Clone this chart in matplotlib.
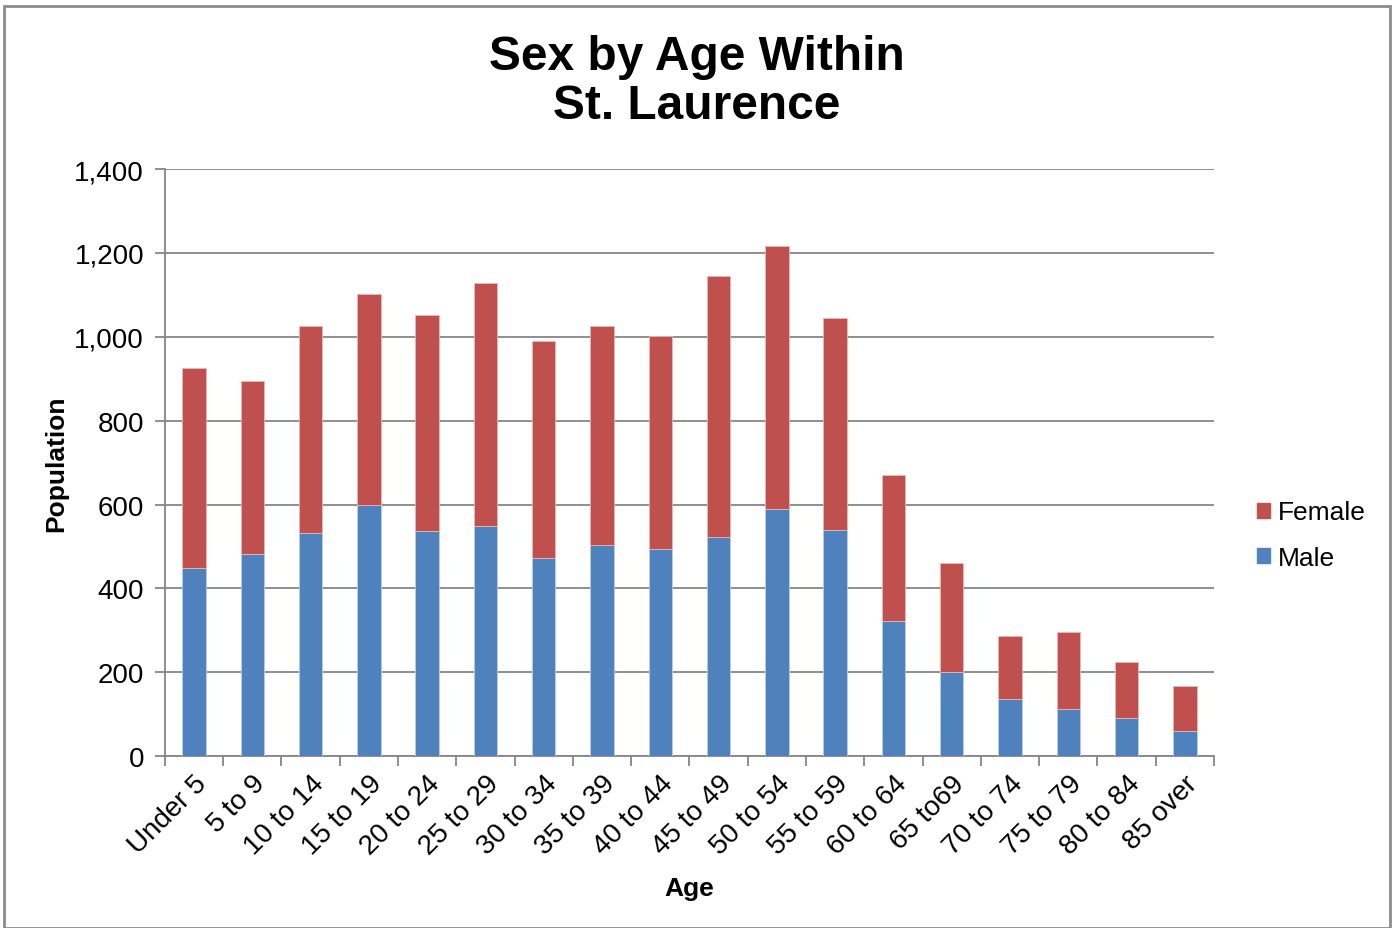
import matplotlib.pyplot as plt
import matplotlib.patches as mpatches
import numpy as np
from matplotlib.ticker import FuncFormatter, MultipleLocator

plt.rcParams['font.family'] = ['Liberation Sans', 'DejaVu Sans']

age_groups = ["Under 5", "5 to 9", "10 to 14", "15 to 19", "20 to 24", "25 to 29",
              "30 to 34", "35 to 39", "40 to 44", "45 to 49", "50 to 54", "55 to 59",
              "60 to 64", "65 to69", "70 to 74", "75 to 79", "80 to 84", "85 over"]
male = [448, 481, 531, 599, 538, 549, 472, 503, 494, 522, 589, 539,
        322, 200, 136, 112, 91, 60]
female = [477, 413, 494, 503, 514, 579, 518, 522, 508, 623, 627, 506,
          348, 260, 150, 184, 133, 107]

male_color = "#4F81BD"
female_color = "#C0504D"
grid_color = "#868686"

fig = plt.figure(figsize=(13.97, 9.29), dpi=100)
ax = fig.add_axes([0.118, 0.185, 0.751, 0.632])

x = np.arange(len(age_groups))
ax.bar(x, male, width=0.4, color=male_color, edgecolor="#B9CDE5", linewidth=0.6,
       label="Male", zorder=3)
ax.bar(x, female, width=0.4, bottom=male, color=female_color, edgecolor="#E6B9B8",
       linewidth=0.6, label="Female", zorder=3)

ax.set_xlim(-0.5, len(age_groups) - 0.5)
ax.set_ylim(0, 1400)
ax.yaxis.set_major_locator(MultipleLocator(200))
ax.yaxis.set_major_formatter(FuncFormatter(lambda v, p: f"{int(v):,}"))
ax.grid(axis="y", color=grid_color, linewidth=1.3, zorder=0)

ax.set_xticks(x)
ax.set_xticklabels(age_groups, rotation=45, ha="right", rotation_mode="anchor",
                   fontsize=20)
ax.tick_params(axis="x", length=0, pad=10)
# category boundary ticks
ax.set_xticks(np.arange(-0.5, len(age_groups)), minor=True)
ax.tick_params(axis="x", which="minor", length=7, color=grid_color, width=1.3,
               direction="out")
ax.tick_params(axis="y", labelsize=20, length=7, color=grid_color, width=1.3, pad=8)

for side in ["top", "right"]:
    ax.spines[side].set_visible(False)
for side in ["left", "bottom"]:
    ax.spines[side].set_color(grid_color)
    ax.spines[side].set_linewidth(1.3)

ax.set_ylabel("Population", fontsize=19, fontweight="bold", labelpad=4)
ax.set_xlabel("Age", fontsize=19, fontweight="bold", labelpad=12)

fig.text(0.499, 0.912, "Sex by Age Within\nSt. Laurence", ha="center", va="center",
         fontsize=34.5, fontweight="bold", linespacing=1.12)

handles = [mpatches.Patch(color=female_color, label="Female"),
           mpatches.Patch(color=male_color, label="Male")]
fig.legend(handles=handles, loc="center left", bbox_to_anchor=(0.89, 0.423),
           frameon=False, fontsize=19, handlelength=0.5, handleheight=0.5,
           handletextpad=0.3, labelspacing=0.8, borderpad=0)

fig.patches.append(mpatches.Rectangle((0.003, 0.0), 0.992, 0.993, transform=fig.transFigure,
                                      fill=False, edgecolor="#8C8C8C", linewidth=2))

fig.savefig("out.png", dpi=100)
